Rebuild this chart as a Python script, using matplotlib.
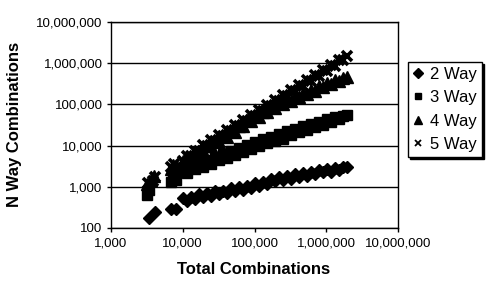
import matplotlib
matplotlib.use("Agg")
import matplotlib.pyplot as plt
from matplotlib.ticker import FixedLocator, NullLocator, FuncFormatter

plt.rcParams['font.family'] = ['Liberation Sans', 'DejaVu Sans']

# Shared x values (total combinations) for the dense part of the bands
total_combinations = [10000, 11400, 12900, 14700, 16700, 19000, 21600, 24600, 28000, 31800,
                      36100, 41100, 46700, 53100, 60400, 68700, 78100, 88800, 101000, 115000,
                      131000, 149000, 169000, 192000, 218000, 248000, 282000, 321000, 365000, 415000,
                      472000, 537000, 610000, 694000, 789000, 897000, 1020000, 1160000, 1320000, 1500000,
                      1710000, 1940000]

two_way = [525, 447, 562, 513, 661, 575, 692, 589, 776, 676,
           794, 708, 933, 794, 977, 832, 1047, 955, 1230, 1072,
           1318, 1148, 1514, 1349, 1698, 1479, 1820, 1585, 2042, 1778,
           2138, 1862, 2291, 2042, 2570, 2239, 2692, 2344, 2884, 2570,
           3020, 2951]
three_way = [2570, 2138, 3236, 2630, 3890, 3090, 4467, 3631, 5370, 4365,
             6310, 5012, 7244, 5888, 8710, 7079, 10470, 8318, 12300, 9772,
             14450, 11480, 16600, 12880, 18620, 14790, 22390, 17780, 25700, 20890,
             29510, 23990, 33110, 27540, 38020, 32360, 43650, 37150, 48980, 43650,
             53700, 54950]
four_way = [4150, 3990, 5420, 5330, 7410, 7460, 10020, 9530, 12820, 12470,
            17140, 16330, 22280, 21580, 29440, 29170, 41020, 40090, 53330, 50120,
            66680, 63830, 86700, 83370, 110200, 103700, 133400, 123900, 162200, 151000,
            189700, 180300, 225400, 214800, 274200, 259400, 324300, 306900, 382800, 364800,
            445700, 462400]
five_way = [4170, 5750, 5500, 7590, 7240, 10230, 9770, 13490, 12880, 17780,
            16980, 23440, 22390, 30900, 30200, 41690, 39810, 54950, 52480, 72440,
            69180, 95500, 91200, 128800, 123000, 169800, 162200, 223900, 213800, 295100,
            281800, 389000, 380200, 524800, 501200, 691800, 660700, 912000, 871000, 1202000,
            1175000, 1479000]

# Sparse points at the small end
two_way_early_x = [3400, 4100, 6800, 8000]
two_way_early_y = [175, 250, 290, 295]
three_way_early_x = [3200, 3400, 6800, 7400, 8000]
three_way_early_y = [650, 850, 1300, 1650, 1450]
four_way_early_x = [3200, 3600, 4000, 6800, 7400, 8200]
four_way_early_y = [1150, 1500, 1800, 2700, 3300, 3000]
five_way_early_x = [3300, 3800, 4100, 6900, 7600]
five_way_early_y = [1250, 1350, 1700, 3100, 3600]

series_labels = ["2 Way", "3 Way", "4 Way", "5 Way"]
x_ticks = [1000, 10000, 100000, 1000000, 10000000]
y_ticks = [100, 1000, 10000, 100000, 1000000, 10000000]

fig = plt.figure(figsize=(4.87, 2.82), dpi=100)
ax = fig.add_axes([111/487, 1-228/282, (398-111)/487, (228-22)/282])
ax.set_xscale('log')
ax.set_yscale('log')

series = [
    (two_way_early_x + total_combinations, two_way_early_y + two_way, 'D', 6.3, 1.0),
    (three_way_early_x + total_combinations, three_way_early_y + three_way, 's', 7.0, 1.0),
    (four_way_early_x + total_combinations, four_way_early_y + four_way, '^', 8.5, 1.0),
    (five_way_early_x + total_combinations, five_way_early_y + five_way, 'x', 7.5, 2.6),
]
legend_sizes = {'D': 5, 's': 5, '^': 6, 'x': 5}
handles = []
for (xs, ys, m, ms, mew), lab in zip(series, series_labels):
    ax.plot(xs, ys, linestyle='none', marker=m, markersize=ms, color='black',
            markeredgewidth=mew, zorder=3)
    h, = ax.plot([], [], linestyle='none', marker=m, color='black',
                 markersize=legend_sizes[m],
                 markeredgewidth=1.0 if m != 'x' else 1.3, label=lab)
    handles.append(h)

ax.set_xlim(1000, 10000000)
ax.set_ylim(100, 10000000)
fmt = FuncFormatter(lambda v, p: f"{int(round(v)):,}")
ax.xaxis.set_major_locator(FixedLocator(x_ticks))
ax.yaxis.set_major_locator(FixedLocator(y_ticks))
ax.xaxis.set_minor_locator(NullLocator())
ax.yaxis.set_minor_locator(NullLocator())
ax.xaxis.set_major_formatter(fmt)
ax.yaxis.set_major_formatter(fmt)
ax.tick_params(axis='both', direction='out', length=3, width=1, labelsize=9.5, colors='black')
ax.tick_params(axis='x', pad=4)
ax.tick_params(axis='y', pad=3)
ax.grid(True, axis='y', which='major', color='black', linewidth=1.0, zorder=1)
ax.set_axisbelow(True)
for s in ax.spines.values():
    s.set_color('black')
    s.set_linewidth(1.0)

fig.text(254/487, 1-270/282, "Total Combinations", ha='center', va='center',
         fontsize=12, fontweight='bold')
fig.text(15/487, 1-124/282, "N Way Combinations", ha='center', va='center',
         rotation=90, fontsize=12, fontweight='bold')

leg = ax.legend(handles=handles, loc='upper left', bbox_to_anchor=(408/487, 1-62/282),
                bbox_transform=fig.transFigure, fontsize=12, frameon=True,
                fancybox=False, shadow={'color': 'black', 'alpha': 1.0, 'ox': 1.5, 'oy': -1.5},
                numpoints=1, handlelength=0.6, handletextpad=0.45,
                labelspacing=0.5, borderpad=0.3, borderaxespad=0.0)
leg.get_frame().set_edgecolor('black')
leg.get_frame().set_linewidth(1.0)

fig.savefig("out.png", dpi=100, facecolor='white')
